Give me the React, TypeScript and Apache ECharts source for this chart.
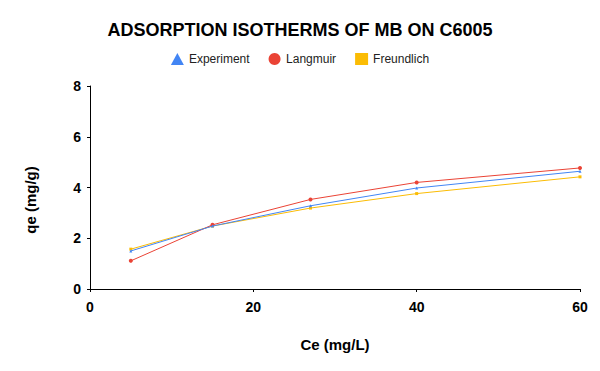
import React, { useEffect, useRef } from "react";
import * as echarts from "echarts";

const ceValues = [5, 15, 27, 40, 60];
const experiment = [1.5, 2.48, 3.28, 3.98, 4.64];
const langmuir = [1.11, 2.53, 3.53, 4.2, 4.77];
const freundlich = [1.57, 2.48, 3.19, 3.76, 4.42];
const seriesNames = ["Experiment", "Langmuir", "Freundlich"];
const colors = ["#4285F4", "#EA4335", "#FBBC04"];
const FONT = "Liberation Sans, Arial, sans-serif";

export default function App() {
  const ref = useRef<HTMLDivElement>(null);
  useEffect(() => {
    const chart = echarts.init(ref.current!, null, { renderer: "svg" });
    const mk = (vals: number[]) => ceValues.map((x, i) => [x, vals[i]]);
    chart.setOption({
      animation: false,
      backgroundColor: "#ffffff",
      title: {
        text: "ADSORPTION ISOTHERMS OF MB ON C6005",
        left: "center",
        top: 16,
        textStyle: { fontFamily: FONT, fontSize: 18, fontWeight: "bold", color: "#000" },
      },
      legend: {
        top: 48,
        left: "center",
        itemGap: 19,
        itemWidth: 13,
        itemHeight: 12,
        textStyle: { fontFamily: FONT, fontSize: 12, color: "#222" },
        data: [
          { name: seriesNames[0], icon: "triangle" },
          { name: seriesNames[1], icon: "circle" },
          { name: seriesNames[2], icon: "rect" },
        ],
      },
      grid: { left: 90, right: 20, top: 86, bottom: 82, containLabel: false },
      xAxis: {
        type: "value",
        min: 0,
        max: 60,
        interval: 20,
        name: "Ce (mg/L)",
        nameLocation: "middle",
        nameGap: 48,
        nameTextStyle: { fontFamily: FONT, fontSize: 15, fontWeight: "bold", color: "#000" },
        axisLine: { show: true, lineStyle: { color: "#000", width: 1 } },
        axisTick: { show: true, length: 3, lineStyle: { color: "#000" } },
        axisLabel: { fontFamily: FONT, fontSize: 14, fontWeight: "bold", color: "#000", margin: 11 },
        splitLine: { show: false },
      },
      yAxis: {
        type: "value",
        min: 0,
        max: 8,
        interval: 2,
        axisLine: { show: true, lineStyle: { color: "#000", width: 1 } },
        axisTick: { show: true, length: 3, lineStyle: { color: "#000" } },
        axisLabel: { fontFamily: FONT, fontSize: 14, fontWeight: "bold", color: "#000", margin: 9 },
        splitLine: { show: false },
      },
      graphic: [
        {
          type: "text",
          x: 30,
          y: 200,
          rotation: Math.PI / 2,
          style: {
            text: "qe (mg/g)",
            fontFamily: FONT,
            fontSize: 15,
            fontWeight: "bold",
            fill: "#000",
            align: "center",
            verticalAlign: "middle",
          },
        },
      ],
      series: [
        {
          name: seriesNames[0],
          type: "line",
          data: mk(experiment),
          symbol: "triangle",
          symbolSize: 3,
          itemStyle: { color: colors[0] },
          lineStyle: { color: colors[0], width: 1 },
          z: 3,
        },
        {
          name: seriesNames[1],
          type: "line",
          data: mk(langmuir),
          symbol: "circle",
          symbolSize: 4,
          itemStyle: { color: colors[1] },
          lineStyle: { color: colors[1], width: 1 },
          z: 2,
        },
        {
          name: seriesNames[2],
          type: "line",
          data: mk(freundlich),
          symbol: "rect",
          symbolSize: 3,
          itemStyle: { color: colors[2] },
          lineStyle: { color: colors[2], width: 1 },
          z: 1,
        },
      ],
    });
    return () => chart.dispose();
  }, []);
  return <div ref={ref} style={{ width: 600, height: 371, position: "absolute", left: 0, top: 0 }} />;
}
